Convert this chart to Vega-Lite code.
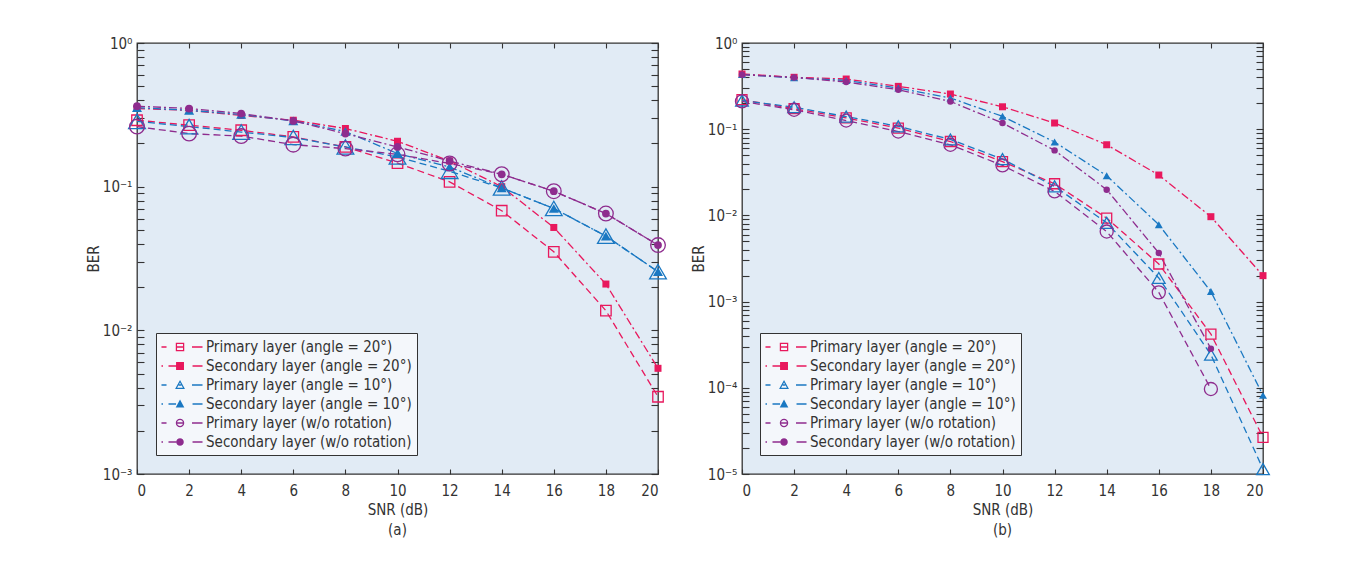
{
  "$schema": "https://vega.github.io/schema/vega-lite/v6.json",
  "background": "white",
  "padding": {"left": 85, "top": 35, "right": 5, "bottom": 5},
  "spacing": 20,
  "config": {
    "font": "Liberation Sans Narrow, DejaVu Sans Condensed, sans-serif",
    "view": {"fill": "#e1ebf5", "stroke": "#333333", "strokeWidth": 1.3},
    "axis": {"domain": false, "grid": false, "tickColor": "#333333", "tickWidth": 1.1, "labelColor": "#333333", "labelFontSize": 15, "titleFontSize": 15, "titleFontWeight": "normal", "titleColor": "#333333"},
    "legend": {"fillColor": "#f4f7fb", "strokeColor": "#333333", "padding": 5, "labelFontSize": 15, "labelColor": "#333333", "symbolSize": 324, "symbolOffset": 12, "labelOffset": 15, "rowPadding": 2, "symbolStrokeWidth": 0, "labelLimit": 400},
    "title": {"fontSize": 15, "fontWeight": "normal", "color": "#333333"}
  },
  "datasets": {
    "a": [
      {"series": "Primary layer (angle = 20°)", "snr": 0, "ber": 0.29},
      {"series": "Primary layer (angle = 20°)", "snr": 2, "ber": 0.268},
      {"series": "Primary layer (angle = 20°)", "snr": 4, "ber": 0.247},
      {"series": "Primary layer (angle = 20°)", "snr": 6, "ber": 0.222},
      {"series": "Primary layer (angle = 20°)", "snr": 8, "ber": 0.189},
      {"series": "Primary layer (angle = 20°)", "snr": 10, "ber": 0.146},
      {"series": "Primary layer (angle = 20°)", "snr": 12, "ber": 0.108},
      {"series": "Primary layer (angle = 20°)", "snr": 14, "ber": 0.068},
      {"series": "Primary layer (angle = 20°)", "snr": 16, "ber": 0.0352},
      {"series": "Primary layer (angle = 20°)", "snr": 18, "ber": 0.0137},
      {"series": "Primary layer (angle = 20°)", "snr": 20, "ber": 0.00345},
      {"series": "Secondary layer (angle = 20°)", "snr": 0, "ber": 0.35},
      {"series": "Secondary layer (angle = 20°)", "snr": 2, "ber": 0.34},
      {"series": "Secondary layer (angle = 20°)", "snr": 4, "ber": 0.313},
      {"series": "Secondary layer (angle = 20°)", "snr": 6, "ber": 0.29},
      {"series": "Secondary layer (angle = 20°)", "snr": 8, "ber": 0.254},
      {"series": "Secondary layer (angle = 20°)", "snr": 10, "ber": 0.207},
      {"series": "Secondary layer (angle = 20°)", "snr": 12, "ber": 0.151},
      {"series": "Secondary layer (angle = 20°)", "snr": 14, "ber": 0.1},
      {"series": "Secondary layer (angle = 20°)", "snr": 16, "ber": 0.052},
      {"series": "Secondary layer (angle = 20°)", "snr": 18, "ber": 0.021},
      {"series": "Secondary layer (angle = 20°)", "snr": 20, "ber": 0.00544},
      {"series": "Primary layer (angle = 10°)", "snr": 0, "ber": 0.285},
      {"series": "Primary layer (angle = 10°)", "snr": 2, "ber": 0.262},
      {"series": "Primary layer (angle = 10°)", "snr": 4, "ber": 0.24},
      {"series": "Primary layer (angle = 10°)", "snr": 6, "ber": 0.22},
      {"series": "Primary layer (angle = 10°)", "snr": 8, "ber": 0.189},
      {"series": "Primary layer (angle = 10°)", "snr": 10, "ber": 0.161},
      {"series": "Primary layer (angle = 10°)", "snr": 12, "ber": 0.128},
      {"series": "Primary layer (angle = 10°)", "snr": 14, "ber": 0.098},
      {"series": "Primary layer (angle = 10°)", "snr": 16, "ber": 0.0705},
      {"series": "Primary layer (angle = 10°)", "snr": 18, "ber": 0.0453},
      {"series": "Primary layer (angle = 10°)", "snr": 20, "ber": 0.0256},
      {"series": "Secondary layer (angle = 10°)", "snr": 0, "ber": 0.355},
      {"series": "Secondary layer (angle = 10°)", "snr": 2, "ber": 0.34},
      {"series": "Secondary layer (angle = 10°)", "snr": 4, "ber": 0.318},
      {"series": "Secondary layer (angle = 10°)", "snr": 6, "ber": 0.287},
      {"series": "Secondary layer (angle = 10°)", "snr": 8, "ber": 0.242},
      {"series": "Secondary layer (angle = 10°)", "snr": 10, "ber": 0.17},
      {"series": "Secondary layer (angle = 10°)", "snr": 12, "ber": 0.137},
      {"series": "Secondary layer (angle = 10°)", "snr": 14, "ber": 0.098},
      {"series": "Secondary layer (angle = 10°)", "snr": 16, "ber": 0.0705},
      {"series": "Secondary layer (angle = 10°)", "snr": 18, "ber": 0.0453},
      {"series": "Secondary layer (angle = 10°)", "snr": 20, "ber": 0.0256},
      {"series": "Primary layer (w/o rotation)", "snr": 0, "ber": 0.262},
      {"series": "Primary layer (w/o rotation)", "snr": 2, "ber": 0.234},
      {"series": "Primary layer (w/o rotation)", "snr": 4, "ber": 0.225},
      {"series": "Primary layer (w/o rotation)", "snr": 6, "ber": 0.196},
      {"series": "Primary layer (w/o rotation)", "snr": 8, "ber": 0.184},
      {"series": "Primary layer (w/o rotation)", "snr": 10, "ber": 0.168},
      {"series": "Primary layer (w/o rotation)", "snr": 12, "ber": 0.145},
      {"series": "Primary layer (w/o rotation)", "snr": 14, "ber": 0.122},
      {"series": "Primary layer (w/o rotation)", "snr": 16, "ber": 0.093},
      {"series": "Primary layer (w/o rotation)", "snr": 18, "ber": 0.065},
      {"series": "Primary layer (w/o rotation)", "snr": 20, "ber": 0.0392},
      {"series": "Secondary layer (w/o rotation)", "snr": 0, "ber": 0.363},
      {"series": "Secondary layer (w/o rotation)", "snr": 2, "ber": 0.35},
      {"series": "Secondary layer (w/o rotation)", "snr": 4, "ber": 0.323},
      {"series": "Secondary layer (w/o rotation)", "snr": 6, "ber": 0.287},
      {"series": "Secondary layer (w/o rotation)", "snr": 8, "ber": 0.234},
      {"series": "Secondary layer (w/o rotation)", "snr": 10, "ber": 0.189},
      {"series": "Secondary layer (w/o rotation)", "snr": 12, "ber": 0.151},
      {"series": "Secondary layer (w/o rotation)", "snr": 14, "ber": 0.122},
      {"series": "Secondary layer (w/o rotation)", "snr": 16, "ber": 0.093},
      {"series": "Secondary layer (w/o rotation)", "snr": 18, "ber": 0.065},
      {"series": "Secondary layer (w/o rotation)", "snr": 20, "ber": 0.0392}
    ],
    "b": [
      {"series": "Primary layer (angle = 20°)", "snr": 0, "ber": 0.22},
      {"series": "Primary layer (angle = 20°)", "snr": 2, "ber": 0.173},
      {"series": "Primary layer (angle = 20°)", "snr": 4, "ber": 0.135},
      {"series": "Primary layer (angle = 20°)", "snr": 6, "ber": 0.103},
      {"series": "Primary layer (angle = 20°)", "snr": 8, "ber": 0.072},
      {"series": "Primary layer (angle = 20°)", "snr": 10, "ber": 0.042},
      {"series": "Primary layer (angle = 20°)", "snr": 12, "ber": 0.0233},
      {"series": "Primary layer (angle = 20°)", "snr": 14, "ber": 0.0093},
      {"series": "Primary layer (angle = 20°)", "snr": 16, "ber": 0.00273},
      {"series": "Primary layer (angle = 20°)", "snr": 18, "ber": 0.00042},
      {"series": "Primary layer (angle = 20°)", "snr": 20, "ber": 0.0000266},
      {"series": "Secondary layer (angle = 20°)", "snr": 0, "ber": 0.437},
      {"series": "Secondary layer (angle = 20°)", "snr": 2, "ber": 0.4},
      {"series": "Secondary layer (angle = 20°)", "snr": 4, "ber": 0.382},
      {"series": "Secondary layer (angle = 20°)", "snr": 6, "ber": 0.314},
      {"series": "Secondary layer (angle = 20°)", "snr": 8, "ber": 0.256},
      {"series": "Secondary layer (angle = 20°)", "snr": 10, "ber": 0.182},
      {"series": "Secondary layer (angle = 20°)", "snr": 12, "ber": 0.118},
      {"series": "Secondary layer (angle = 20°)", "snr": 14, "ber": 0.066},
      {"series": "Secondary layer (angle = 20°)", "snr": 16, "ber": 0.0294},
      {"series": "Secondary layer (angle = 20°)", "snr": 18, "ber": 0.00966},
      {"series": "Secondary layer (angle = 20°)", "snr": 20, "ber": 0.002},
      {"series": "Primary layer (angle = 10°)", "snr": 0, "ber": 0.215},
      {"series": "Primary layer (angle = 10°)", "snr": 2, "ber": 0.18},
      {"series": "Primary layer (angle = 10°)", "snr": 4, "ber": 0.14},
      {"series": "Primary layer (angle = 10°)", "snr": 6, "ber": 0.108},
      {"series": "Primary layer (angle = 10°)", "snr": 8, "ber": 0.076},
      {"series": "Primary layer (angle = 10°)", "snr": 10, "ber": 0.045},
      {"series": "Primary layer (angle = 10°)", "snr": 12, "ber": 0.0217},
      {"series": "Primary layer (angle = 10°)", "snr": 14, "ber": 0.0082},
      {"series": "Primary layer (angle = 10°)", "snr": 16, "ber": 0.00188},
      {"series": "Primary layer (angle = 10°)", "snr": 18, "ber": 0.000242},
      {"series": "Primary layer (angle = 10°)", "snr": 20, "ber": 0.0000114},
      {"series": "Secondary layer (angle = 10°)", "snr": 0, "ber": 0.43},
      {"series": "Secondary layer (angle = 10°)", "snr": 2, "ber": 0.395},
      {"series": "Secondary layer (angle = 10°)", "snr": 4, "ber": 0.368},
      {"series": "Secondary layer (angle = 10°)", "snr": 6, "ber": 0.3},
      {"series": "Secondary layer (angle = 10°)", "snr": 8, "ber": 0.23},
      {"series": "Secondary layer (angle = 10°)", "snr": 10, "ber": 0.141},
      {"series": "Secondary layer (angle = 10°)", "snr": 12, "ber": 0.071},
      {"series": "Secondary layer (angle = 10°)", "snr": 14, "ber": 0.0289},
      {"series": "Secondary layer (angle = 10°)", "snr": 16, "ber": 0.0078},
      {"series": "Secondary layer (angle = 10°)", "snr": 18, "ber": 0.00131},
      {"series": "Secondary layer (angle = 10°)", "snr": 20, "ber": 0.0000817},
      {"series": "Primary layer (w/o rotation)", "snr": 0, "ber": 0.21},
      {"series": "Primary layer (w/o rotation)", "snr": 2, "ber": 0.168},
      {"series": "Primary layer (w/o rotation)", "snr": 4, "ber": 0.126},
      {"series": "Primary layer (w/o rotation)", "snr": 6, "ber": 0.094},
      {"series": "Primary layer (w/o rotation)", "snr": 8, "ber": 0.066},
      {"series": "Primary layer (w/o rotation)", "snr": 10, "ber": 0.038},
      {"series": "Primary layer (w/o rotation)", "snr": 12, "ber": 0.019},
      {"series": "Primary layer (w/o rotation)", "snr": 14, "ber": 0.0065},
      {"series": "Primary layer (w/o rotation)", "snr": 16, "ber": 0.00128},
      {"series": "Primary layer (w/o rotation)", "snr": 18, "ber": 0.0000968},
      {"series": "Secondary layer (w/o rotation)", "snr": 0, "ber": 0.429},
      {"series": "Secondary layer (w/o rotation)", "snr": 2, "ber": 0.399},
      {"series": "Secondary layer (w/o rotation)", "snr": 4, "ber": 0.353},
      {"series": "Secondary layer (w/o rotation)", "snr": 6, "ber": 0.287},
      {"series": "Secondary layer (w/o rotation)", "snr": 8, "ber": 0.21},
      {"series": "Secondary layer (w/o rotation)", "snr": 10, "ber": 0.118},
      {"series": "Secondary layer (w/o rotation)", "snr": 12, "ber": 0.0568},
      {"series": "Secondary layer (w/o rotation)", "snr": 14, "ber": 0.0199},
      {"series": "Secondary layer (w/o rotation)", "snr": 16, "ber": 0.00366},
      {"series": "Secondary layer (w/o rotation)", "snr": 18, "ber": 0.000284}
    ]
  },
  "resolve": {
    "scale": {"color": "independent", "strokeDash": "independent", "shape": "independent"},
    "legend": {"color": "independent", "shape": "independent"}
  },
  "hconcat": [
    {
      "width": 521, "height": 431,
      "data": {"name": "a"},
      "title": {"text": "(a)", "orient": "bottom", "anchor": "middle", "offset": 6},
      "resolve": {"axis": {"x": "independent", "y": "independent"}},
      "layer": [
        {
          "transform": [{"filter": "datum.snr > 100"}],
          "mark": {"type": "point", "filled": true, "opacity": 1, "strokeWidth": 0},
          "encoding": {
            "x": {"field": "snr", "type": "quantitative", "axis": null},
            "y": {"field": "ber", "type": "quantitative", "axis": null},
            "color": {"field": "series", "type": "nominal", "scale": {"domain": ["Primary layer (angle = 20°)", "Secondary layer (angle = 20°)", "Primary layer (angle = 10°)", "Secondary layer (angle = 10°)", "Primary layer (w/o rotation)", "Secondary layer (w/o rotation)"], "range": ["#e8185d", "#e8185d", "#1a78c2", "#1a78c2", "#8e2c8e", "#8e2c8e"]}, "legend": {"title": null, "orient": "none", "legendX": 19, "legendY": 290}},
            "shape": {"field": "series", "type": "nominal", "scale": {"domain": ["Primary layer (angle = 20°)", "Secondary layer (angle = 20°)", "Primary layer (angle = 10°)", "Secondary layer (angle = 10°)", "Primary layer (w/o rotation)", "Secondary layer (w/o rotation)"], "range": [
              "M-2.28,-0.07H-1.72V0.07H-2.28ZM-0.69,-0.47H0.25V0.47H-0.69ZM-0.55,-0.33V0.33H0.11V-0.33ZM-0.55,-0.07H0.11V0.07H-0.55ZM1.11,-0.07H2.28V0.07H1.11Z",
              "M-2.28,-0.07H-2.11V0.07H-2.28ZM-1.5,-0.07H-0.66V0.07H-1.5ZM-0.66,-0.44H0.22V0.44H-0.66ZM1.17,-0.07H2.28V0.07H1.17Z",
              "M-2.28,-0.07H-1.72V0.07H-2.28ZM-0.22,-0.55L0.33,0.45H-0.77ZM-0.22,-0.27L-0.54,0.31H0.1ZM-0.37,-0.07H-0.07V0.07H-0.37ZM1.11,-0.07H2.28V0.07H1.11Z",
              "M-2.28,-0.07H-2.11V0.07H-2.28ZM-1.5,-0.07H-0.66V0.07H-1.5ZM-0.22,-0.5L0.26,0.4H-0.7ZM1.17,-0.07H2.28V0.07H1.17Z",
              "M-2.28,-0.07H-1.72V0.07H-2.28ZM0.25,0A0.47,0.47 0 1,1 -0.69,0A0.47,0.47 0 1,1 0.25,0ZM0.11,0A0.33,0.33 0 1,0 -0.55,0A0.33,0.33 0 1,0 0.11,0ZM-0.55,-0.07H0.11V0.07H-0.55ZM1.11,-0.07H2.28V0.07H1.11Z",
              "M-2.28,-0.07H-2.11V0.07H-2.28ZM-1.5,-0.07H-0.64V0.07H-1.5ZM0.2,0A0.42,0.42 0 1,1 -0.64,0A0.42,0.42 0 1,1 0.2,0ZM1.17,-0.07H2.28V0.07H1.17Z"
            ]}, "legend": {"title": null, "orient": "none", "legendX": 19, "legendY": 290}}
          }
        },
        {
          "mark": {"type": "line", "strokeWidth": 1.3},
          "encoding": {
            "x": {"field": "snr", "type": "quantitative", "scale": {"domain": [0, 20], "nice": false, "zero": false}, "axis": {"orient": "bottom", "values": [0, 2, 4, 6, 8, 10, 12, 14, 16, 18, 20], "title": "SNR (dB)", "tickSize": -5, "labelPadding": 14, "titlePadding": 4}},
            "y": {"field": "ber", "type": "quantitative", "scale": {"type": "log", "domain": [0.001, 1], "nice": false}, "axis": {"orient": "left", "values": [0.001, 0.002, 0.003, 0.004, 0.005, 0.006, 0.007, 0.008, 0.009, 0.01, 0.02, 0.03, 0.04, 0.05, 0.06, 0.07, 0.08, 0.09, 0.1, 0.2, 0.3, 0.4, 0.5, 0.6, 0.7, 0.8, 0.9, 1], "labelExpr": "datum.value == 1 ? '10⁰' : datum.value == 0.1 ? '10⁻¹' : datum.value == 0.01 ? '10⁻²' : datum.value == 0.001 ? '10⁻³' : datum.value == 0.0001 ? '10⁻⁴' : datum.value == 0.00001 ? '10⁻⁵' : ''", "labelOverlap": false, "title": "BER", "tickSize": -7, "labelPadding": 12, "titlePadding": 1}},
            "color": {"field": "series", "type": "nominal", "legend": null},
            "strokeDash": {"field": "series", "type": "nominal", "scale": {"domain": ["Primary layer (angle = 20°)", "Secondary layer (angle = 20°)", "Primary layer (angle = 10°)", "Secondary layer (angle = 10°)", "Primary layer (w/o rotation)", "Secondary layer (w/o rotation)"], "range": [[7, 4], [8, 3, 2, 3], [7, 4], [8, 3, 2, 3], [7, 4], [8, 3, 2, 3]]}, "legend": null}
          }
        },
        {
          "transform": [{"filter": {"field": "series", "equal": "Primary layer (angle = 20°)"}}],
          "mark": {"type": "point", "shape": "square", "filled": false, "size": 110, "strokeWidth": 1.3, "opacity": 1},
          "encoding": {
            "x": {"field": "snr", "type": "quantitative", "axis": {"orient": "top", "values": [0, 2, 4, 6, 8, 10, 12, 14, 16, 18, 20], "labels": false, "title": null, "tickSize": -5}},
            "y": {"field": "ber", "type": "quantitative", "axis": {"orient": "right", "values": [0.001, 0.002, 0.003, 0.004, 0.005, 0.006, 0.007, 0.008, 0.009, 0.01, 0.02, 0.03, 0.04, 0.05, 0.06, 0.07, 0.08, 0.09, 0.1, 0.2, 0.3, 0.4, 0.5, 0.6, 0.7, 0.8, 0.9, 1], "labels": false, "title": null, "tickSize": -7}},
            "color": {"field": "series", "type": "nominal", "legend": null}
          }
        },
        {
          "transform": [{"filter": {"field": "series", "equal": "Secondary layer (angle = 20°)"}}],
          "mark": {"type": "point", "shape": "square", "filled": true, "size": 49, "opacity": 1},
          "encoding": {
            "x": {"field": "snr", "type": "quantitative", "axis": null},
            "y": {"field": "ber", "type": "quantitative", "axis": null},
            "color": {"field": "series", "type": "nominal", "legend": null}
          }
        },
        {
          "transform": [{"filter": {"field": "series", "equal": "Primary layer (angle = 10°)"}}],
          "mark": {"type": "point", "shape": "triangle-up", "filled": false, "size": 280, "strokeWidth": 1.3, "opacity": 1},
          "encoding": {
            "x": {"field": "snr", "type": "quantitative", "axis": null},
            "y": {"field": "ber", "type": "quantitative", "axis": null},
            "color": {"field": "series", "type": "nominal", "legend": null}
          }
        },
        {
          "transform": [{"filter": {"field": "series", "equal": "Secondary layer (angle = 10°)"}}],
          "mark": {"type": "point", "shape": "triangle-up", "filled": true, "size": 100, "opacity": 1},
          "encoding": {
            "x": {"field": "snr", "type": "quantitative", "axis": null},
            "y": {"field": "ber", "type": "quantitative", "axis": null},
            "color": {"field": "series", "type": "nominal", "legend": null}
          }
        },
        {
          "transform": [{"filter": {"field": "series", "equal": "Primary layer (w/o rotation)"}}],
          "mark": {"type": "point", "shape": "circle", "filled": false, "size": 215, "strokeWidth": 1.3, "opacity": 1},
          "encoding": {
            "x": {"field": "snr", "type": "quantitative", "axis": null},
            "y": {"field": "ber", "type": "quantitative", "axis": null},
            "color": {"field": "series", "type": "nominal", "legend": null}
          }
        },
        {
          "transform": [{"filter": {"field": "series", "equal": "Secondary layer (w/o rotation)"}}],
          "mark": {"type": "point", "shape": "circle", "filled": true, "size": 60, "opacity": 1},
          "encoding": {
            "x": {"field": "snr", "type": "quantitative", "axis": null},
            "y": {"field": "ber", "type": "quantitative", "axis": null},
            "color": {"field": "series", "type": "nominal", "legend": null}
          }
        }
      ]
    },
    {
      "width": 521, "height": 431,
      "data": {"name": "b"},
      "title": {"text": "(b)", "orient": "bottom", "anchor": "middle", "offset": 6},
      "resolve": {"axis": {"x": "independent", "y": "independent"}},
      "layer": [
        {
          "transform": [{"filter": "datum.snr > 100"}],
          "mark": {"type": "point", "filled": true, "opacity": 1, "strokeWidth": 0},
          "encoding": {
            "x": {"field": "snr", "type": "quantitative", "axis": null},
            "y": {"field": "ber", "type": "quantitative", "axis": null},
            "color": {"field": "series", "type": "nominal", "scale": {"domain": ["Primary layer (angle = 20°)", "Secondary layer (angle = 20°)", "Primary layer (angle = 10°)", "Secondary layer (angle = 10°)", "Primary layer (w/o rotation)", "Secondary layer (w/o rotation)"], "range": ["#e8185d", "#e8185d", "#1a78c2", "#1a78c2", "#8e2c8e", "#8e2c8e"]}, "legend": {"title": null, "orient": "none", "legendX": 18, "legendY": 290}},
            "shape": {"field": "series", "type": "nominal", "scale": {"domain": ["Primary layer (angle = 20°)", "Secondary layer (angle = 20°)", "Primary layer (angle = 10°)", "Secondary layer (angle = 10°)", "Primary layer (w/o rotation)", "Secondary layer (w/o rotation)"], "range": [
              "M-2.28,-0.07H-1.72V0.07H-2.28ZM-0.69,-0.47H0.25V0.47H-0.69ZM-0.55,-0.33V0.33H0.11V-0.33ZM-0.55,-0.07H0.11V0.07H-0.55ZM1.11,-0.07H2.28V0.07H1.11Z",
              "M-2.28,-0.07H-2.11V0.07H-2.28ZM-1.5,-0.07H-0.66V0.07H-1.5ZM-0.66,-0.44H0.22V0.44H-0.66ZM1.17,-0.07H2.28V0.07H1.17Z",
              "M-2.28,-0.07H-1.72V0.07H-2.28ZM-0.22,-0.55L0.33,0.45H-0.77ZM-0.22,-0.27L-0.54,0.31H0.1ZM-0.37,-0.07H-0.07V0.07H-0.37ZM1.11,-0.07H2.28V0.07H1.11Z",
              "M-2.28,-0.07H-2.11V0.07H-2.28ZM-1.5,-0.07H-0.66V0.07H-1.5ZM-0.22,-0.5L0.26,0.4H-0.7ZM1.17,-0.07H2.28V0.07H1.17Z",
              "M-2.28,-0.07H-1.72V0.07H-2.28ZM0.25,0A0.47,0.47 0 1,1 -0.69,0A0.47,0.47 0 1,1 0.25,0ZM0.11,0A0.33,0.33 0 1,0 -0.55,0A0.33,0.33 0 1,0 0.11,0ZM-0.55,-0.07H0.11V0.07H-0.55ZM1.11,-0.07H2.28V0.07H1.11Z",
              "M-2.28,-0.07H-2.11V0.07H-2.28ZM-1.5,-0.07H-0.64V0.07H-1.5ZM0.2,0A0.42,0.42 0 1,1 -0.64,0A0.42,0.42 0 1,1 0.2,0ZM1.17,-0.07H2.28V0.07H1.17Z"
            ]}, "legend": {"title": null, "orient": "none", "legendX": 18, "legendY": 290}}
          }
        },
        {
          "mark": {"type": "line", "strokeWidth": 1.3},
          "encoding": {
            "x": {"field": "snr", "type": "quantitative", "scale": {"domain": [0, 20], "nice": false, "zero": false}, "axis": {"orient": "bottom", "values": [0, 2, 4, 6, 8, 10, 12, 14, 16, 18, 20], "title": "SNR (dB)", "tickSize": -5, "labelPadding": 14, "titlePadding": 4}},
            "y": {"field": "ber", "type": "quantitative", "scale": {"type": "log", "domain": [0.00001, 1], "nice": false}, "axis": {"orient": "left", "values": [0.00001, 0.00002, 0.00003, 0.00004, 0.00005, 0.00006, 0.00007, 0.00008, 0.00009, 0.0001, 0.0002, 0.0003, 0.0004, 0.0005, 0.0006, 0.0007, 0.0008, 0.0009, 0.001, 0.002, 0.003, 0.004, 0.005, 0.006, 0.007, 0.008, 0.009, 0.01, 0.02, 0.03, 0.04, 0.05, 0.06, 0.07, 0.08, 0.09, 0.1, 0.2, 0.3, 0.4, 0.5, 0.6, 0.7, 0.8, 0.9, 1], "labelExpr": "datum.value == 1 ? '10⁰' : datum.value == 0.1 ? '10⁻¹' : datum.value == 0.01 ? '10⁻²' : datum.value == 0.001 ? '10⁻³' : datum.value == 0.0001 ? '10⁻⁴' : datum.value == 0.00001 ? '10⁻⁵' : ''", "labelOverlap": false, "title": "BER", "tickSize": -7, "labelPadding": 12, "titlePadding": 1}},
            "color": {"field": "series", "type": "nominal", "legend": null},
            "strokeDash": {"field": "series", "type": "nominal", "scale": {"domain": ["Primary layer (angle = 20°)", "Secondary layer (angle = 20°)", "Primary layer (angle = 10°)", "Secondary layer (angle = 10°)", "Primary layer (w/o rotation)", "Secondary layer (w/o rotation)"], "range": [[7, 4], [8, 3, 2, 3], [7, 4], [8, 3, 2, 3], [7, 4], [8, 3, 2, 3]]}, "legend": null}
          }
        },
        {
          "transform": [{"filter": {"field": "series", "equal": "Primary layer (angle = 20°)"}}],
          "mark": {"type": "point", "shape": "square", "filled": false, "size": 100, "strokeWidth": 1.3, "opacity": 1},
          "encoding": {
            "x": {"field": "snr", "type": "quantitative", "axis": {"orient": "top", "values": [0, 2, 4, 6, 8, 10, 12, 14, 16, 18, 20], "labels": false, "title": null, "tickSize": -5}},
            "y": {"field": "ber", "type": "quantitative", "axis": {"orient": "right", "values": [0.00001, 0.00002, 0.00003, 0.00004, 0.00005, 0.00006, 0.00007, 0.00008, 0.00009, 0.0001, 0.0002, 0.0003, 0.0004, 0.0005, 0.0006, 0.0007, 0.0008, 0.0009, 0.001, 0.002, 0.003, 0.004, 0.005, 0.006, 0.007, 0.008, 0.009, 0.01, 0.02, 0.03, 0.04, 0.05, 0.06, 0.07, 0.08, 0.09, 0.1, 0.2, 0.3, 0.4, 0.5, 0.6, 0.7, 0.8, 0.9, 1], "labels": false, "title": null, "tickSize": -7}},
            "color": {"field": "series", "type": "nominal", "legend": null}
          }
        },
        {
          "transform": [{"filter": {"field": "series", "equal": "Secondary layer (angle = 20°)"}}],
          "mark": {"type": "point", "shape": "square", "filled": true, "size": 49, "opacity": 1},
          "encoding": {
            "x": {"field": "snr", "type": "quantitative", "axis": null},
            "y": {"field": "ber", "type": "quantitative", "axis": null},
            "color": {"field": "series", "type": "nominal", "legend": null}
          }
        },
        {
          "transform": [{"filter": {"field": "series", "equal": "Primary layer (angle = 10°)"}}],
          "mark": {"type": "point", "shape": "triangle-up", "filled": false, "size": 160, "strokeWidth": 1.3, "opacity": 1},
          "encoding": {
            "x": {"field": "snr", "type": "quantitative", "axis": null},
            "y": {"field": "ber", "type": "quantitative", "axis": null},
            "color": {"field": "series", "type": "nominal", "legend": null}
          }
        },
        {
          "transform": [{"filter": {"field": "series", "equal": "Secondary layer (angle = 10°)"}}],
          "mark": {"type": "point", "shape": "triangle-up", "filled": true, "size": 64, "opacity": 1},
          "encoding": {
            "x": {"field": "snr", "type": "quantitative", "axis": null},
            "y": {"field": "ber", "type": "quantitative", "axis": null},
            "color": {"field": "series", "type": "nominal", "legend": null}
          }
        },
        {
          "transform": [{"filter": {"field": "series", "equal": "Primary layer (w/o rotation)"}}],
          "mark": {"type": "point", "shape": "circle", "filled": false, "size": 170, "strokeWidth": 1.3, "opacity": 1},
          "encoding": {
            "x": {"field": "snr", "type": "quantitative", "axis": null},
            "y": {"field": "ber", "type": "quantitative", "axis": null},
            "color": {"field": "series", "type": "nominal", "legend": null}
          }
        },
        {
          "transform": [{"filter": {"field": "series", "equal": "Secondary layer (w/o rotation)"}}],
          "mark": {"type": "point", "shape": "circle", "filled": true, "size": 42, "opacity": 1},
          "encoding": {
            "x": {"field": "snr", "type": "quantitative", "axis": null},
            "y": {"field": "ber", "type": "quantitative", "axis": null},
            "color": {"field": "series", "type": "nominal", "legend": null}
          }
        }
      ]
    }
  ]
}
